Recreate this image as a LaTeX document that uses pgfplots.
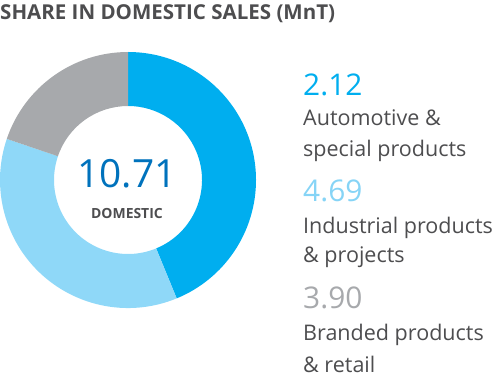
\documentclass[border=0pt]{standalone}
\usepackage{pgfplots}
\pgfplotsset{compat=1.18}
\usepackage{pgfplotstable}
\usepackage{fontspec}
\setmainfont{Open Sans}
\definecolor{dblue}{HTML}{00AEEF}
\definecolor{lblue}{HTML}{8FD8F8}
\definecolor{lbluetxt}{HTML}{86D4F6}
\definecolor{sgray}{HTML}{A7A9AC}
\definecolor{txt}{HTML}{4D4D4F}
\definecolor{navy}{HTML}{0072BC}
\pgfplotstableread{
value
4.69
3.90
2.12
}\donutdata
\begin{document}
\begin{tikzpicture}[x=1bp,y=1bp]
\useasboundingbox (0,0) rectangle (500,388);
\pgfplotstablegetelem{0}{value}\of\donutdata \let\vA\pgfplotsretval
\pgfplotstablegetelem{1}{value}\of\donutdata \let\vB\pgfplotsretval
\pgfplotstablegetelem{2}{value}\of\donutdata \let\vC\pgfplotsretval
\pgfmathsetmacro\tot{\vA+\vB+\vC}
\pgfmathsetmacro\aA{90}
\pgfmathsetmacro\aB{\aA-360*\vA/\tot}
\pgfmathsetmacro\aC{\aB-360*\vB/\tot}
\pgfmathsetmacro\aD{\aC-360*\vC/\tot}
\def\ri{0.578}
\begin{axis}[hide axis, scale only axis, width=256bp, height=256bp,
  xmin=-1, xmax=1, ymin=-1, ymax=1, at={(128bp,208bp)}, anchor=origin, clip=false]
\addplot[draw=none] coordinates {(0,0)};
\fill[dblue] (axis cs:{cos(\aA)},{sin(\aA)}) arc[start angle=\aA, end angle=\aB, radius=128bp]
  -- (axis cs:{\ri*cos(\aB)},{\ri*sin(\aB)}) arc[start angle=\aB, end angle=\aA, radius=74bp] -- cycle;
\fill[lblue] (axis cs:{cos(\aB)},{sin(\aB)}) arc[start angle=\aB, end angle=\aC, radius=128bp]
  -- (axis cs:{\ri*cos(\aC)},{\ri*sin(\aC)}) arc[start angle=\aC, end angle=\aB, radius=74bp] -- cycle;
\fill[sgray] (axis cs:{cos(\aC)},{sin(\aC)}) arc[start angle=\aC, end angle=\aD, radius=128bp]
  -- (axis cs:{\ri*cos(\aD)},{\ri*sin(\aD)}) arc[start angle=\aD, end angle=\aC, radius=74bp] -- cycle;
\end{axis}
% title
\node[anchor=base west, inner sep=0, text=txt] at (0,369) {\fontsize{20.6}{26}\selectfont\bfseries SHARE IN DOMESTIC SALES (MnT)};
% center
\node[anchor=base, inner sep=0, text=navy] at (127,201) {\fontsize{39}{50}\selectfont 10.71};
\node[anchor=base, inner sep=0, text=txt] at (127,170) {\fontsize{14}{18}\selectfont\bfseries DOMESTIC};
% legend
\node[anchor=base west, inner sep=0, text=dblue] at (303,293) {\fontsize{30}{36}\selectfont 2.12};
\node[anchor=base west, inner sep=0, text=txt] at (303,263) {\fontsize{21.6}{26}\selectfont Automotive \&};
\node[anchor=base west, inner sep=0, text=txt] at (303,232) {\fontsize{21.6}{26}\selectfont special products};
\node[anchor=base west, inner sep=0, text=lbluetxt] at (303,187) {\fontsize{30}{36}\selectfont 4.69};
\node[anchor=base west, inner sep=0, text=txt] at (303,155) {\fontsize{21.6}{26}\selectfont Industrial products};
\node[anchor=base west, inner sep=0, text=txt] at (303,126) {\fontsize{21.6}{26}\selectfont \& projects};
\node[anchor=base west, inner sep=0, text=sgray] at (303,80) {\fontsize{30}{36}\selectfont 3.90};
\node[anchor=base west, inner sep=0, text=txt] at (303,48) {\fontsize{21.6}{26}\selectfont Branded products};
\node[anchor=base west, inner sep=0, text=txt] at (303,16) {\fontsize{21.6}{26}\selectfont \& retail};
\end{tikzpicture}
\end{document}
